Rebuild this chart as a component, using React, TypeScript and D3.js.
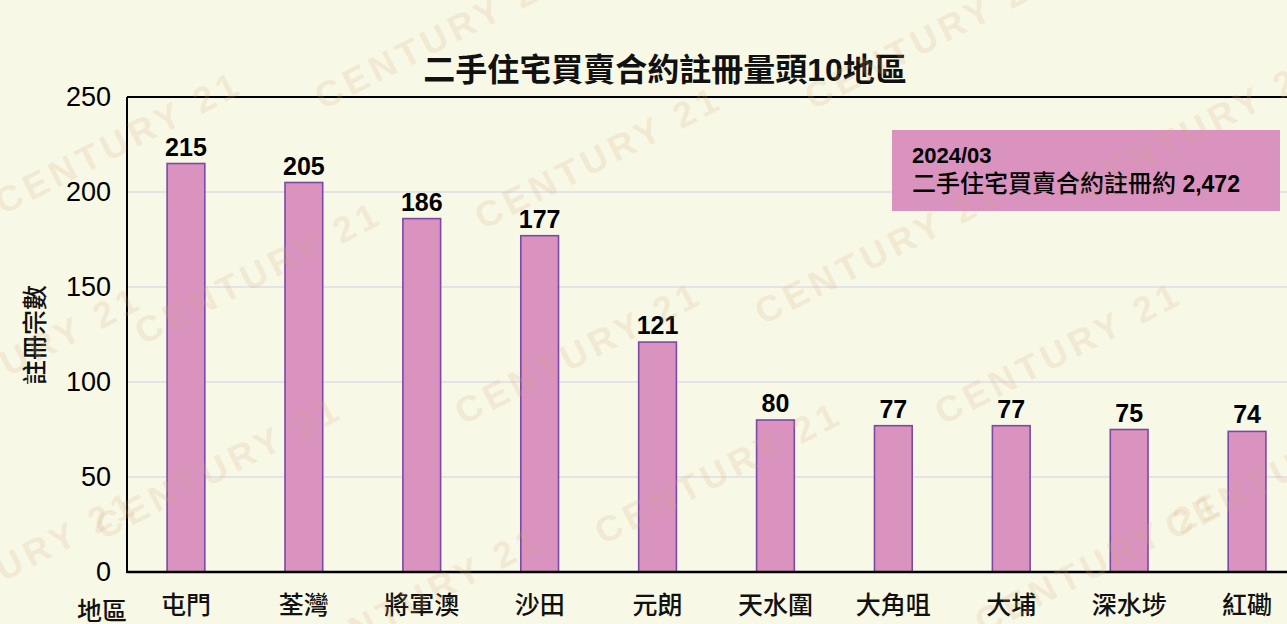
import React from "react";
import * as d3 from "d3";

const categories = ["屯門", "荃灣", "將軍澳", "沙田", "元朗", "天水圍", "大角咀", "大埔", "深水埗", "紅磡"];
const values = [215, 205, 186, 177, 121, 80, 77, 77, 75, 74];
const yTicks = [0, 50, 100, 150, 200, 250];
const title = "二手住宅買賣合約註冊量頭10地區";
const legendDate = "2024/03";
const legendText = "二手住宅買賣合約註冊約";
const legendTotal = "2,472";
const yTitle = "註冊宗數";
const xTitle = "地區";
const watermarks = [
  [120, 145], [440, 40], [930, 40], [600, 160], [1200, 130], [260, 275], [880, 255],
  [580, 355], [1060, 355], [220, 470], [720, 475], [1100, 565], [15, 565], [420, 600], [1290, 470], [20, 360],
];

const W = 1287;
const H = 624;
const FONT = "'Liberation Sans', Arial, 'Noto Sans CJK TC', sans-serif";
const CJK = "'Noto Sans CJK TC', 'Liberation Sans', sans-serif";

export default function App() {
  const left = 127;
  const right = 1306;
  const top = 97;
  const bottom = 572;
  const x = d3.scaleBand<string>().domain(categories).range([left, right]).paddingInner(0.68).paddingOuter(0.34);
  const y = d3.scaleLinear().domain([0, 250]).range([bottom, top]);
  const bw = x.bandwidth();

  return (
    <svg width={W} height={H} style={{ position: "fixed", left: 0, top: 0, background: "#F8F8E6" }} fontFamily={FONT}>
      <rect x={0} y={0} width={W} height={H} fill="#F8F8E6" />
      {yTicks.filter(t => t > 0 && t < 250).map(t => (
        <line key={t} x1={left} x2={W} y1={y(t)} y2={y(t)} stroke="#DEDEE8" strokeWidth={1.5} />
      ))}
      {categories.map((c, i) => (
        <g key={c}>
          <rect x={x(c)!} y={y(values[i])} width={bw} height={bottom - y(values[i])} fill="#DA92BF" stroke="#7B49A8" strokeWidth={1.6} />
          <text x={x(c)! + bw / 2} y={y(values[i]) - 8} textAnchor="middle" fontSize={25} fontWeight="bold" fill="#000">{values[i]}</text>
          <text x={x(c)! + bw / 2} y={614} textAnchor="middle" fontSize={25} fontWeight={500} fill="#111"
            fontFamily={CJK}>{c}</text>
        </g>
      ))}
      <line x1={left} x2={W} y1={top} y2={top} stroke="#000" strokeWidth={2} />
      <line x1={left} x2={W} y1={bottom} y2={bottom} stroke="#000" strokeWidth={2.5} />
      <line x1={left} x2={left} y1={top} y2={bottom + 1} stroke="#000" strokeWidth={2} />
      {yTicks.map(t => (
        <text key={t} x={111} y={y(t)} textAnchor="end" dominantBaseline="central" fontSize={27} fill="#000">{t}</text>
      ))}
      <text transform={`translate(44 335) rotate(-90)`} textAnchor="middle" fontSize={25} fontWeight={500} fill="#111"
        fontFamily={CJK}>{yTitle}</text>
      <text x={102} y={620} textAnchor="middle" fontSize={25} fontWeight={500} fill="#111"
        fontFamily={CJK}>{xTitle}</text>
      <text x={665} y={81} textAnchor="middle" fontSize={32} fontWeight="bold" fill="#111">{title}</text>
      <rect x={892} y={130} width={388} height={81} fill="#DA92BF" />
      <text x={912} y={163} fontSize={22} fontWeight="bold" fill="#000">{legendDate}</text>
      <text x={912} y={192} fontSize={24} fill="#000">
        <tspan fontFamily={CJK} fontWeight={500}>{legendText}</tspan>
        <tspan fontWeight="bold" fontSize={23}>{" " + legendTotal}</tspan>
      </text>
      <g pointerEvents="none">
        {watermarks.map(([wx, wy], i) => (
          <text key={i} x={wx} y={wy} transform={`rotate(-27 ${wx} ${wy})`} textAnchor="middle" dominantBaseline="middle"
            fontSize={36} fontWeight="bold" fill="#D4AC80" fillOpacity={0.2} letterSpacing={5}>CENTURY 21</text>
        ))}
      </g>
    </svg>
  );
}
